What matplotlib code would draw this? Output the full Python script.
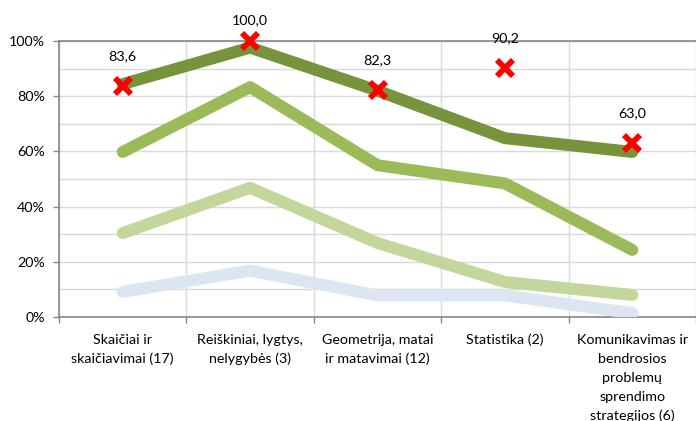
import matplotlib
matplotlib.use("Agg")
import matplotlib.pyplot as plt
from matplotlib.ticker import MultipleLocator, FuncFormatter

categories = ["Skaičiai ir\nskaičiavimai (17)",
              "Reiškiniai, lygtys,\nnelygybės (3)",
              "Geometrija, matai\nir matavimai (12)",
              "Statistika (2)",
              "Komunikavimas ir\nbendrosios\nproblemų\nsprendimo\nstrategijos (6)"]
series_blue = [9.1, 16.8, 7.8, 7.8, 1.4]
series_light = [30.4, 46.8, 26.8, 12.7, 8.0]
series_mid = [59.8, 83.3, 55.0, 48.4, 24.3]
series_dark = [84.4, 97.6, 82.0, 64.8, 59.8]
marker_values = [83.6, 100.0, 82.3, 90.2, 63.0]
marker_labels = ["83,6", "100,0", "82,3", "90,2", "63,0"]

plt.rcParams['font.family'] = ['Lato', 'DejaVu Sans']

fig = plt.figure(figsize=(6.96, 4.21), dpi=100)
ax = fig.add_axes([59/696, 1-317/421, 1-59/696, (317-41)/421])

x = list(range(len(categories)))
lw = 8.6
for vals, col in [(series_blue, '#DCE6F2'), (series_light, '#C3D69B'),
                  (series_mid, '#9BBB59'), (series_dark, '#77933C')]:
    ax.plot(x, vals, color=col, lw=lw, solid_capstyle='round',
            solid_joinstyle='round', zorder=3)

ax.plot(x, marker_values, linestyle='none', marker='x', markersize=11,
        markeredgewidth=4.2, color='#FF0000', zorder=5, clip_on=False)
fs = 10.3
for xi, v, lab in zip(x, marker_values, marker_labels):
    off = 15 if v >= 99 else 21.5   # label pushed down when at top of chart
    ax.annotate(lab, (xi, v), xytext=(0, off), textcoords='offset points',
                ha='center', va='center', fontsize=fs, color='#000000',
                annotation_clip=False)

ax.set_xlim(-0.5, 4.5)
ax.set_ylim(0, 100)
ax.yaxis.set_major_locator(MultipleLocator(20))
ax.yaxis.set_minor_locator(MultipleLocator(10))
ax.yaxis.set_major_formatter(FuncFormatter(lambda v, p: f"{int(v)}%"))
ax.set_xticks(x)
ax.set_xticklabels([""] * len(categories))
ax.set_xticks([-0.5, 0.5, 1.5, 2.5, 3.5, 4.5], minor=True)
ax.tick_params(axis='x', which='major', length=0, pad=3)
ax.tick_params(axis='x', which='minor', length=4, color='#868686', width=1)
ax.tick_params(axis='y', which='major', length=4, color='#868686', width=1,
               labelsize=fs, pad=6)
ax.tick_params(axis='y', which='minor', length=0)

# category labels, drawn line by line for exact line spacing
xtrans = ax.get_xaxis_transform()
first_baseline = -19.8   # points below the axis
line_step = 13.6         # points between baselines
for xi, cat in zip(x, categories):
    for j, line in enumerate(cat.split("\n")):
        ax.annotate(line, (xi, 0), xycoords=xtrans,
                    xytext=(0, first_baseline - j * line_step),
                    textcoords='offset points', ha='center', va='baseline',
                    fontsize=fs, annotation_clip=False)

ax.grid(True, which='both', axis='y', color='#D9D9D9', lw=1, zorder=0)
ax.grid(True, which='minor', axis='x', color='#D9D9D9', lw=1, zorder=0)
ax.set_axisbelow(True)

for s in ['left', 'bottom', 'top']:
    ax.spines[s].set_color('#868686')
    ax.spines[s].set_linewidth(1.2)
ax.spines['right'].set_visible(False)

fig.savefig('out.png', dpi=100)
